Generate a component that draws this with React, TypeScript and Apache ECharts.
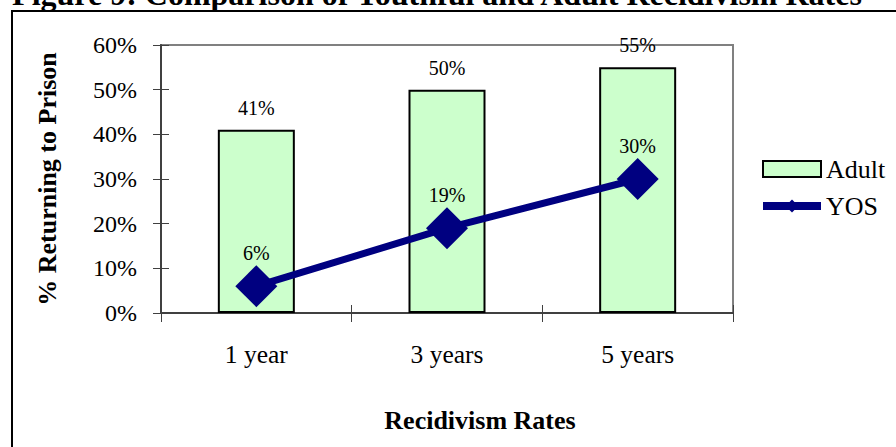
import React, { useEffect, useRef } from "react";
import * as echarts from "echarts";

const categories = ["1 year", "3 years", "5 years"];
const adultValues = [0.41, 0.5, 0.55];
const yosValues = [0.06, 0.19, 0.3];
const titleText = "Figure 9: Comparison of Youthful and Adult Recidivism Rates";
const yAxisTitle = "% Returning to Prison";
const xAxisTitle = "Recidivism Rates";

const FONT = "'Liberation Serif', 'Times New Roman', serif";
const AXIS_COLOR = "#404040";

export default function App() {
  const ref = useRef<HTMLDivElement>(null);
  useEffect(() => {
    document.body.style.margin = "0";
    const chart = echarts.init(ref.current!, null, { renderer: "svg" });
    const pct = (v: number) => Math.round(v * 100) + "%";
    chart.setOption({
      animation: false,
      backgroundColor: "#ffffff",
      textStyle: { fontFamily: FONT, color: "#000" },
      grid: {
        left: 161,
        top: 45,
        right: 163,
        bottom: 134,
        show: true,
        borderColor: "#808080",
        borderWidth: 2,
        containLabel: false,
      },
      legend: {
        orient: "vertical",
        left: 759,
        top: 156,
        padding: 0,
        itemWidth: 58,
        itemHeight: 16,
        itemGap: 11,
        textStyle: { fontFamily: FONT, fontSize: 26, color: "#000" },
        data: [
          { name: "Adult", icon: "rect" },
          { name: "YOS", lineStyle: { width: 8, color: "#000080" } },
        ],
      },
      xAxis: [
        {
          type: "category",
          data: categories,
          boundaryGap: true,
          position: "bottom",
          axisLine: { lineStyle: { color: AXIS_COLOR, width: 2 } },
          axisTick: { show: true, length: 9, lineStyle: { color: AXIS_COLOR, width: 1 } },
          axisLabel: { fontFamily: FONT, fontSize: 25.5, color: "#000", margin: 28 },
          name: xAxisTitle,
          nameLocation: "middle",
          nameGap: 94,
          nameTextStyle: {
            fontFamily: FONT,
            fontSize: 26,
            fontWeight: "bold",
            color: "#000",
            padding: [0, 0, 0, 66],
          },
        },
        {
          type: "category",
          data: categories,
          boundaryGap: true,
          position: "bottom",
          axisLine: { show: false },
          axisTick: { show: true, inside: true, length: 8, lineStyle: { color: AXIS_COLOR, width: 1 } },
          axisLabel: { show: false },
        },
      ],
      yAxis: [
        {
          type: "value",
          min: 0,
          max: 0.6,
          interval: 0.1,
          position: "left",
          splitLine: { show: false },
          axisLine: { show: true, lineStyle: { color: AXIS_COLOR, width: 2 } },
          axisTick: { show: true, length: 8, lineStyle: { color: AXIS_COLOR, width: 1 } },
          axisLabel: {
            fontFamily: FONT,
            fontSize: 24,
            color: "#000",
            margin: 24,
            formatter: (v: number) => pct(v),
          },
          name: yAxisTitle,
          nameLocation: "middle",
          nameGap: 101,
          nameRotate: 90,
          nameTextStyle: { fontFamily: FONT, fontSize: 26, fontWeight: "bold", color: "#000" },
        },
        {
          type: "value",
          min: 0,
          max: 0.6,
          interval: 0.1,
          position: "left",
          splitLine: { show: false },
          axisLine: { show: false },
          axisTick: { show: true, inside: true, length: 8, lineStyle: { color: AXIS_COLOR, width: 1 } },
          axisLabel: { show: false },
        },
      ],
      graphic: [
        {
          type: "rect",
          shape: { x: 12, y: 11, width: 1000, height: 1000 },
          style: { fill: "none", stroke: "#000", lineWidth: 2 },
          silent: true,
        },
        {
          type: "text",
          x: 437,
          y: -6,
          style: {
            text: titleText,
            font: "bold 32px " + FONT,
            fill: "#000",
            textAlign: "center",
            textVerticalAlign: "middle",
          },
        },
      ],
      series: [
        {
          name: "Adult",
          type: "bar",
          data: adultValues,
          barWidth: 77,
          itemStyle: { color: "#CCFFCC", borderColor: "#000", borderWidth: 2 },
          label: {
            show: true,
            position: "top",
            distance: 12,
            fontFamily: FONT,
            fontSize: 20,
            color: "#000",
            formatter: (p: any) => pct(p.value),
          },
        },
        {
          name: "YOS",
          type: "line",
          data: yosValues,
          symbol: "diamond",
          symbolSize: 42,
          lineStyle: { color: "#000080", width: 7 },
          itemStyle: { color: "#000080" },
          label: {
            show: true,
            position: "top",
            distance: 2,
            fontFamily: FONT,
            fontSize: 20,
            color: "#000",
            formatter: (p: any) => pct(p.value),
          },
        },
      ],
    });
    return () => chart.dispose();
  }, []);
  return (
    <div
      ref={ref}
      style={{ position: "absolute", left: 0, top: 0, width: 896, height: 447 }}
    />
  );
}
